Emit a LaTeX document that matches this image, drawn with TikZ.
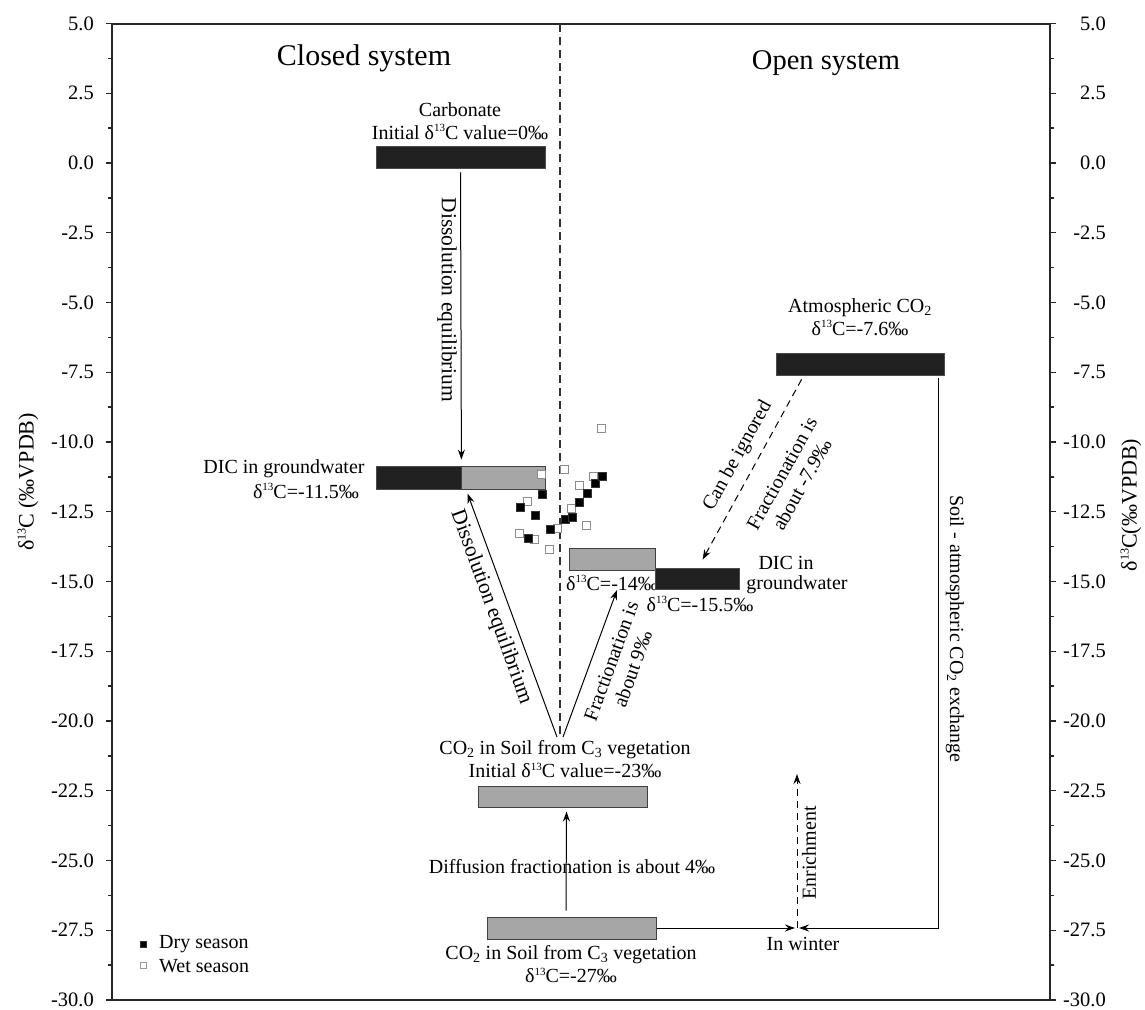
\documentclass[tikz,border=0pt]{standalone}
\usepackage{fontspec}
\setmainfont{Liberation Serif}
\usetikzlibrary{arrows.meta}
\newcommand\dC{δ\raisebox{.8ex}{\scalebox{.55}{13}}C}
\begin{document}
\begin{tikzpicture}[x=1pt,y=-1pt,
  bk/.style={draw=black!70, fill=black!87, line width=0.8, minimum height=22, inner sep=0},
  gy/.style={draw=black!75, fill=black!35, line width=1, minimum height=22, inner sep=0},
  lbl/.style={font=\fontsize{20}{23}\selectfont, inner sep=0, align=center},
  big/.style={lbl, font=\fontsize{21.5}{24}\selectfont},
  ttl/.style={font=\fontsize{30}{34}\selectfont, inner sep=0},
  tick/.style={font=\fontsize{20.5}{22}\selectfont, inner sep=0},
  axl/.style={font=\fontsize{22}{24}\selectfont, inner sep=0, rotate=90},
  axis/.style={line width=1.3, black!85},
  arr/.style={line width=1, -{Stealth[length=10,width=7]}},
  darr/.style={arr, dash pattern=on 7 off 5},
  dry/.style={draw=black!80, fill=black, minimum size=8, inner sep=0},
  wet/.style={draw=black!45, fill=white, minimum size=8, inner sep=0, line width=0.8},
]
\useasboundingbox[fill=white] (0,0) rectangle (1145,1009);

% frame
\draw[axis] (112,24) rectangle (1050,1000);
\foreach \v/\t [count=\i] in {5/5.0,2.5/2.5,0/0.0,-2.5/-2.5,-5/-5.0,-7.5/-7.5,-10/-10.0,-12.5/-12.5,-15/-15.0,-17.5/-17.5,-20/-20.0,-22.5/-22.5,-25/-25.0,-27.5/-27.5,-30/-30.0}{
  \pgfmathsetmacro\yy{163-27.9*\v}
  \draw[axis] (112,\yy) -- (106,\yy);
  \draw[axis] (1050,\yy) -- (1056,\yy);
  \node[tick, anchor=east] (tl\i) at (94,\yy) {\t};
  \node[tick, anchor=east] (tr\i) at (1106,\yy) {\t};
}
\foreach \v in {3.75,1.25,-1.25,-3.75,-6.25,-8.75,-11.25,-13.75,-16.25,-18.75,-21.25,-23.75,-26.25,-28.75}{
  \pgfmathsetmacro\yy{163-27.9*\v}
  \draw[axis] (112,\yy) -- (108,\yy);
  \draw[axis] (1050,\yy) -- (1054,\yy);
}
\node[axl] (yl) at (28,482) {\dC\ (‰VPDB)};
\node[axl] (yr) at (1131,505) {\dC(‰VPDB)};

% dashed divider
\coordinate (dtop) at (560,24);
\coordinate (dbot) at (560,737);
\draw[line width=1.2, black!80, dash pattern=on 8 off 5] (dtop) -- (dbot);

% titles
\node[ttl] (closed) at (364,58) {Closed system};
\node[ttl, font=\fontsize{28.5}{32}\selectfont] (open) at (826,63) {Open system};

% label partly hidden by the box drawn after it
\node[lbl, anchor=west] (l14) at (566,583) {\dC=-14‰};

% boxes
\node[bk, minimum width=169] (carb) at (460.5,157) {};
\node[bk, minimum width=85, minimum height=23] (dicL) at (418.5,477.5) {};
\node[gy, minimum width=84, minimum height=23] (dicR) at (503,477.5) {};
\node[gy, minimum width=86] (b14) at (612,559) {};
\node[bk, minimum width=84, minimum height=21] (b155) at (697,578.5) {};
\node[bk, minimum width=168] (atm) at (860,364) {};
\node[gy, minimum width=169, minimum height=21] (mid) at (562.5,796.5) {};
\node[gy, minimum width=169] (bot) at (571.5,928) {};

% texts
\node[lbl] (carbl) at (460,121) {Carbonate\\Initial \dC\ value=0‰};
\node[lbl] (dicl1) at (284,469) {DIC in groundwater};
\node[lbl] (dicl2) at (306,491) {\dC=-11.5‰};
\node[lbl] (atml) at (860,317) {Atmospheric CO\textsubscript{2}\\\dC=-7.6‰};
\node[lbl] (l155) at (700,604) {\dC=-15.5‰};
\node[lbl] (dic2a) at (786,563) {DIC in};
\node[lbl] (dic2b) at (797,585) {groundwater};
\node[lbl] (midl) at (565,759) {CO\textsubscript{2} in Soil from C\textsubscript{3} vegetation\\Initial \dC\ value=-23‰};
\node[lbl] (botl) at (571,964) {CO\textsubscript{2} in Soil from C\textsubscript{3} vegetation\\\dC=-27‰};
\node[lbl] (diff) at (572,867) {Diffusion fractionation is about 4‰};
\node[lbl] (winter) at (803,944) {In winter};
\node[lbl, rotate=90] (enrl) at (809,853) {Enrichment};
\node[lbl, rotate=-90] (exch) at (955,629) {Soil - atmospheric CO\textsubscript{2} exchange};
\node[big, rotate=-90] (dis1) at (447,300) {Dissolution equilibrium};
\node[big, rotate=-70] (dis2) at (491,607) {Dissolution equilibrium};
\node[lbl, rotate=70] (fr9) at (622,665) {Fractionation is\\about 9‰};
\node[lbl, rotate=61] (ign) at (738,456) {Can be ignored};
\node[lbl, rotate=61] (fr79) at (792,479) {Fractionation is\\about -7.9‰};

% connectors
\coordinate (s1) at (557,737);
\coordinate (s2) at (563,737);
\coordinate (t9) at (617,590);
\coordinate (win) at (797,928);
\coordinate (enr) at (797,774);
\draw[arr] ([yshift=-4]carb.south) -- ([yshift=6]dicL.north east);
\draw[arr] (s1) -- ([xshift=7,yshift=-4]dicR.south west);
\draw[arr] (s2) -- (t9);
\draw[arr] ([xshift=-5.5,yshift=6]bot.north) -- ([xshift=4,yshift=-4]mid.south);
\draw[darr] ([xshift=26,yshift=-4]atm.south west) -- ([xshift=48,yshift=8]b155.north west);
\draw[arr] (bot.east) -- ([xshift=-2]win);
\draw[arr] ([xshift=-6,yshift=-3]atm.south east) |- ([xshift=2]win);
\draw[darr] (win) -- (enr);

% data
\foreach \x/\y [count=\i] in {601/428,541.7/474.3,564.3/469.7,527/501.3,579/485.7,593.7/476.7,571.3/508.3,557/528.3,586.3/525.7,519.3/533.7,534.3/539,549.3/549.3}
  \node[wet] (w\i) at (\x,\y) {};
\foreach \x/\y [count=\i] in {542.3/493.7,519.7/507,535/515,527.7/538,549.7/529.3,564.7/519,572.3/516.7,579.3/502.3,587/493,594.7/483.3,602/476.3}
  \node[dry] (d\i) at (\x,\y) {};

% legend
\node[dry, minimum size=6] (lgd) at (143,944) {};
\node[wet, minimum size=6, draw=black!40] (lgw) at (143,965) {};
\node[lbl, anchor=west] (lgdt) at (159,944) {Dry season};
\node[lbl, anchor=west] (lgwt) at (159,966) {Wet season};
\end{tikzpicture}
\end{document}
